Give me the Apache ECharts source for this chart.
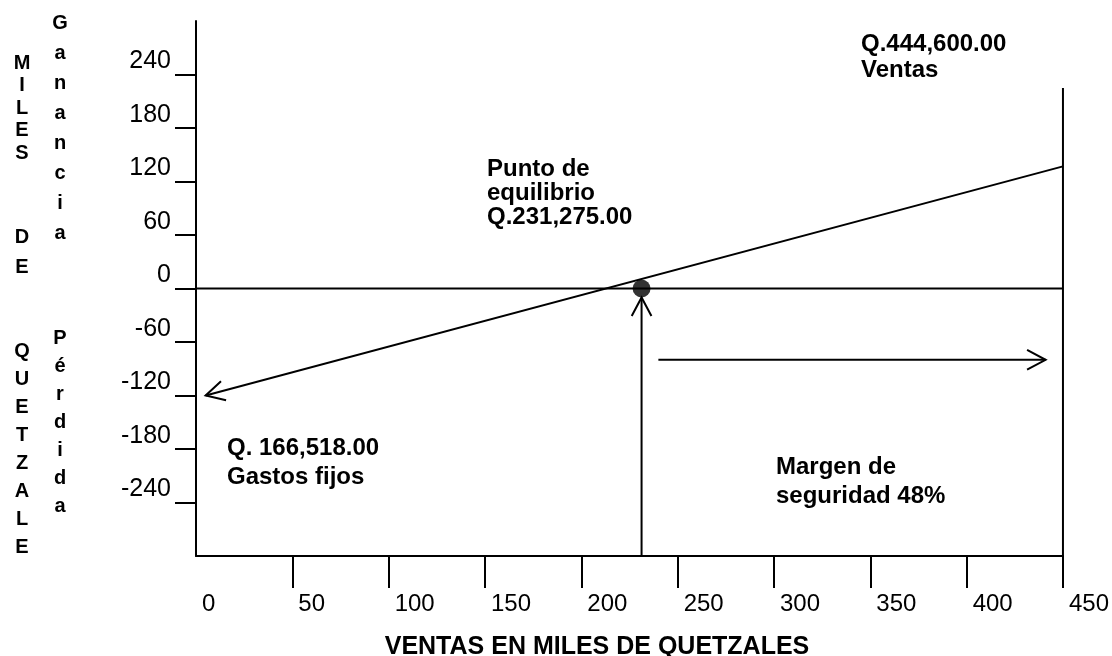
<!DOCTYPE html>
<html>
<head>
<meta charset="utf-8">
<script src="https://cdn.jsdelivr.net/npm/echarts@6/dist/echarts.min.js"></script>
<style>
  html, body { margin: 0; padding: 0; background: #fff; }
  #chart { width: 1112px; height: 656px; }
</style>
</head>
<body>
<div id="chart"></div>
<script>
// Ventas (miles de Q) on x, resultado (miles de Q) on y
const salesTicks = [0, 50, 100, 150, 200, 250, 300, 350, 400, 450];
const salesTickMarks = [50, 100, 150, 200, 250, 300, 350, 400, 450];
const amountTicks = [-240, -180, -120, -60, 0, 60, 120, 180, 240];

// result line: starts at the fixed-cost loss (arrow) and rises to total sales
const resultLine = [[5, -120], [450, 137]];
const zeroLine = [[0, 0], [450, 0]];
const salesLine = [[450, -300], [450, 225]];
const breakEvenSales = 231.275;
const breakEvenArrow = [[breakEvenSales, -300], [breakEvenSales, -10]];
const safetyArrow = [[240, -80], [441, -80]];

// arrow flag: 0 none, 1 head at end point, 2 head at start point
const segments = [
  [...resultLine[0], ...resultLine[1], 2],
  [...zeroLine[0], ...zeroLine[1], 0],
  [...salesLine[0], ...salesLine[1], 0],
  [...breakEvenArrow[0], ...breakEvenArrow[1], 1],
  [...safetyArrow[0], ...safetyArrow[1], 1]
];

const FONT = '"Liberation Sans", Arial, Helvetica, sans-serif';

function renderSegment(params, api) {
  const a = api.coord([api.value(0), api.value(1)]);
  const b = api.coord([api.value(2), api.value(3)]);
  const head = api.value(4);
  const stroke = { stroke: '#000', lineWidth: 2, fill: null };
  const children = [{
    type: 'line',
    shape: { x1: a[0], y1: a[1], x2: b[0], y2: b[1] },
    style: stroke
  }];
  if (head) {
    const tip = head === 1 ? b : a;
    const from = head === 1 ? a : b;
    const dx = tip[0] - from[0], dy = tip[1] - from[1];
    const len = Math.hypot(dx, dy);
    const ux = dx / len, uy = dy / len;
    const L = 21, ang = 28 * Math.PI / 180;
    const c = Math.cos(ang), s = Math.sin(ang);
    const p1 = [tip[0] - L * (c * ux - s * uy), tip[1] - L * (c * uy + s * ux)];
    const p2 = [tip[0] - L * (c * ux + s * uy), tip[1] - L * (c * uy - s * ux)];
    children.push({
      type: 'polyline',
      shape: { points: [p1, tip, p2] },
      style: stroke
    });
  }
  return { type: 'group', children };
}

function stacked(word) { return word.split('').join('\n'); }

const boldText = (text, x, y, extra) => ({
  type: 'text', x, y,
  style: Object.assign({
    text, fill: '#000', font: 'bold 24px ' + FONT,
    verticalAlign: 'middle', align: 'left', lineHeight: 25
  }, extra || {})
});

const chart = echarts.init(document.getElementById('chart'), null, { renderer: 'canvas' });

chart.setOption({
  backgroundColor: '#fff',
  animation: false,
  grid: { left: 196, right: 49, top: 21, bottom: 100 },
  xAxis: {
    type: 'value', min: 0, max: 450, interval: 50,
    axisLine: { onZero: false, lineStyle: { color: '#000', width: 2 } },
    axisTick: { show: true, inside: false, length: 32, customValues: salesTickMarks,
      lineStyle: { color: '#000', width: 2 } },
    axisLabel: { customValues: salesTicks, color: '#000', fontFamily: FONT, fontSize: 24,
      align: 'left', verticalAlign: 'top', margin: 36, lineHeight: 24, padding: [0, 0, 0, 6] },
    splitLine: { show: false }
  },
  yAxis: {
    type: 'value', min: -300, max: 300, interval: 60,
    axisLine: { onZero: false, lineStyle: { color: '#000', width: 2 } },
    axisTick: { show: true, inside: false, length: 21, customValues: amountTicks,
      lineStyle: { color: '#000', width: 2 } },
    axisLabel: { customValues: amountTicks, color: '#000', fontFamily: FONT, fontSize: 25,
      align: 'right', verticalAlign: 'bottom', lineHeight: 26, margin: 25 },
    splitLine: { show: false }
  },
  series: [
    {
      type: 'custom',
      renderItem: renderSegment,
      clip: false,
      encode: { x: [0, 2], y: [1, 3] },
      data: segments,
      silent: true
    },
    {
      type: 'scatter',
      data: [[breakEvenSales, 0]],
      symbol: 'circle',
      symbolSize: 18,
      itemStyle: { color: '#000' },
      silent: true,
      z: 5
    }
  ],
  graphic: [
    boldText('Q.444,600.00\nVentas', 861, 57, { lineHeight: 26 }),
    boldText('Punto de\nequilibrio\nQ.231,275.00', 487, 193, { lineHeight: 24 }),
    boldText('Q. 166,518.00\nGastos fijos', 227, 463, { lineHeight: 29 }),
    boldText('Margen de\nseguridad 48%', 776, 482, { lineHeight: 29 }),
    {
      type: 'text', x: 597, y: 647,
      style: { text: 'VENTAS EN MILES DE QUETZALES', fill: '#000', font: 'bold 25px ' + FONT,
        align: 'center', verticalAlign: 'middle' }
    },
    // stacked vertical titles on the left
    { type: 'text', x: 22, y: 52, style: { text: stacked('MILES'), fill: '#000',
      font: 'bold 20px ' + FONT, align: 'center', verticalAlign: 'top', lineHeight: 22.5 } },
    { type: 'text', x: 22, y: 222, style: { text: stacked('DE'), fill: '#000',
      font: 'bold 20px ' + FONT, align: 'center', verticalAlign: 'top', lineHeight: 30 } },
    { type: 'text', x: 22, y: 337, style: { text: stacked('QUETZALE'), fill: '#000',
      font: 'bold 20px ' + FONT, align: 'center', verticalAlign: 'top', lineHeight: 28 } },
    { type: 'text', x: 60, y: 8, style: { text: stacked('Ganancia'), fill: '#000',
      font: 'bold 20px ' + FONT, align: 'center', verticalAlign: 'top', lineHeight: 30 } },
    { type: 'text', x: 60, y: 324, style: { text: stacked('Pérdida'), fill: '#000',
      font: 'bold 20px ' + FONT, align: 'center', verticalAlign: 'top', lineHeight: 28 } }
  ]
});
</script>
</body>
</html>
